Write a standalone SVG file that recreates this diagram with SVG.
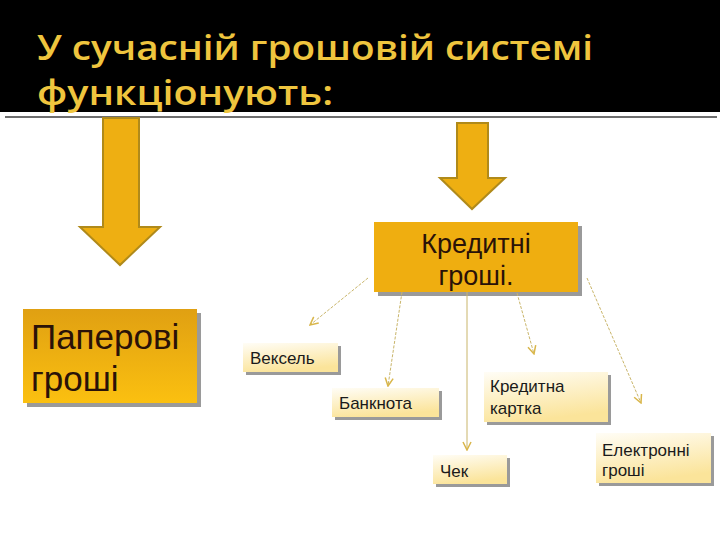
<svg xmlns="http://www.w3.org/2000/svg" width="720" height="540" viewBox="0 0 720 540">
<style>
.title{font-family:"Open Sans","Noto Sans",sans-serif;font-weight:600;font-size:34px;fill:#efc53e}
.big{font-family:"Liberation Sans",Arial,sans-serif;fill:#2a1208}
.small{font-family:"Liberation Sans",Arial,sans-serif;font-size:17px;fill:#1a1a1a}
.conn{fill:none;stroke:#c9b56a;stroke-width:1;stroke-dasharray:3 1.5}
.solid{stroke-dasharray:none}
.bigarrow{fill:#eeaf12;stroke:#b08a1a;stroke-width:2}
.shadow{fill:#9a9a9a}
</style>
<defs>
<linearGradient id="gOrange" x1="0" y1="0" x2="0" y2="1">
<stop offset="0" stop-color="#e0a012"/>
<stop offset="1" stop-color="#fbc010"/>
</linearGradient>
<linearGradient id="gLight" x1="0" y1="0" x2="0.3" y2="1">
<stop offset="0" stop-color="#fffdf6"/>
<stop offset="1" stop-color="#fbe49a"/>
</linearGradient>
<marker id="vh" viewBox="0 0 10 10" refX="9" refY="5" markerWidth="10" markerHeight="10" orient="auto" markerUnits="userSpaceOnUse">
<path d="M1,1 L9,5 L1,9" fill="none" stroke="#d9b64a" stroke-width="1.5"/>
</marker>
</defs>
<rect width="720" height="540" fill="#ffffff"/>
<g id="header">
<rect x="0" y="0" width="720" height="112" fill="#000000"/>
<rect x="5" y="116" width="712" height="2" fill="#6e6e6e"/>
<text class="title" x="37" y="60" textLength="556" lengthAdjust="spacingAndGlyphs">У сучасній грошовій системі</text>
<text class="title" x="37" y="105" textLength="296" lengthAdjust="spacingAndGlyphs">функціонують:</text>
</g>
<g id="arrow-left">
<path class="bigarrow" d="M103,118 H139 V227 H160 L120,265 L80,227 H103 Z"/>
</g>
<g id="arrow-right">
<path class="bigarrow" d="M457,123 H488 V178 H505 L472,209 L440,178 H457 Z"/>
</g>
<g id="paper">
<rect class="shadow" x="27" y="313" width="174" height="94"/>
<rect x="23" y="309" width="174" height="94" fill="url(#gOrange)"/>
<text class="big" x="31" y="349" font-size="35">Паперові</text>
<text class="big" x="31" y="391" font-size="35">гроші</text>
</g>
<g id="credit">
<rect class="shadow" x="378" y="226" width="204" height="70"/>
<rect x="374" y="222" width="204" height="70" fill="#efae10"/>
<text class="big" x="476" y="253" font-size="27" text-anchor="middle">Кредитні</text>
<text class="big" x="476" y="285" font-size="27" text-anchor="middle">гроші.</text>
</g>
<g id="connectors">
<line class="conn" x1="368" y1="278" x2="310" y2="325" marker-end="url(#vh)"/>
<line class="conn" x1="402" y1="292" x2="388" y2="386" marker-end="url(#vh)"/>
<line class="conn solid" x1="467" y1="292" x2="467" y2="450" marker-end="url(#vh)"/>
<line class="conn" x1="517" y1="293" x2="534" y2="354" marker-end="url(#vh)"/>
<line class="conn" x1="587" y1="278" x2="641" y2="403" marker-end="url(#vh)"/>
</g>
<g id="veksel">
<rect class="shadow" x="246" y="346" width="95" height="29"/>
<rect x="243" y="343" width="95" height="29" fill="url(#gLight)"/>
<text class="small" x="250" y="364">Вексель</text>
</g>
<g id="banknota">
<rect class="shadow" x="335" y="391" width="107" height="29"/>
<rect x="332" y="388" width="107" height="29" fill="url(#gLight)"/>
<text class="small" x="339" y="409">Банкнота</text>
</g>
<g id="karta">
<rect class="shadow" x="487" y="375" width="124" height="50"/>
<rect x="484" y="372" width="124" height="50" fill="url(#gLight)"/>
<text class="small" x="490" y="392">Кредитна</text>
<text class="small" x="490" y="414">картка</text>
</g>
<g id="chek">
<rect class="shadow" x="436" y="458" width="74" height="29"/>
<rect x="433" y="455" width="74" height="29" fill="url(#gLight)"/>
<text class="small" x="440" y="477">Чек</text>
</g>
<g id="electronic">
<rect class="shadow" x="599" y="436" width="115" height="50"/>
<rect x="596" y="433" width="115" height="50" fill="url(#gLight)"/>
<text class="small" x="602" y="456">Електронні</text>
<text class="small" x="602" y="476">гроші</text>
</g>
</svg>
